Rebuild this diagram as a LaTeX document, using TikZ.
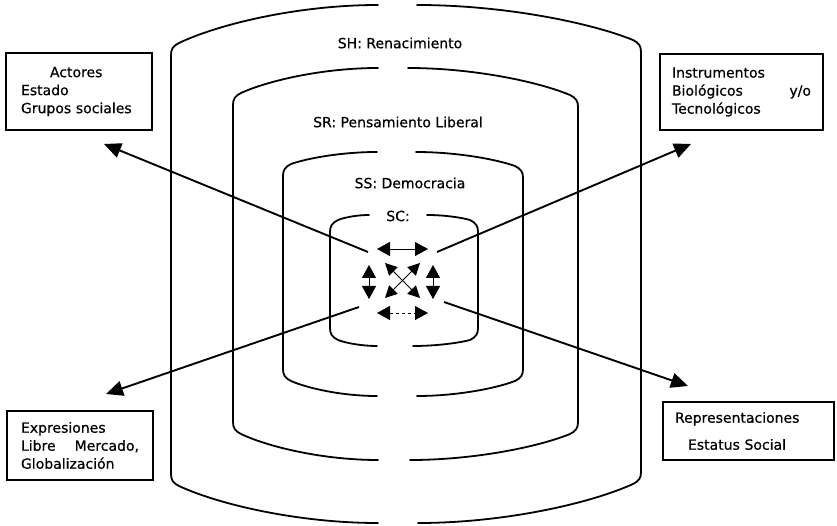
\documentclass[tikz,border=0pt]{standalone}
\usepackage{fontspec}
\setmainfont[FakeBold=0.6]{DejaVu Sans}
\usetikzlibrary{arrows.meta}

% left half of a nested level: xl, y top, y upper shoulder, y lower shoulder, y bottom, top gap x, bottom gap x
\newcommand\ringleft[7]{%
  \draw[ringline] (#6,#2)
    .. controls ({#6-0.4*(#6-#1-8)},#2) and ({#1+8+0.2*(#6-#1-8)},{#3-4-0.5*(#3-4-#2)}) .. ({#1+8},{#3-4})
    .. controls ({#1+2},{#3-1}) and (#1,{#3+2}) .. (#1,{#3+8})
    -- (#1,{#4-8})
    .. controls (#1,{#4-2}) and ({#1+2},{#4+1}) .. ({#1+8},{#4+4})
    .. controls ({#1+8+0.2*(#7-#1-8)},{#4+4+0.5*(#5-#4-4)}) and ({#7-0.4*(#7-#1-8)},#5) .. (#7,#5);}
% right half: xr, y top, y upper shoulder, y lower shoulder, y bottom, top gap x, bottom gap x
\newcommand\ringright[7]{%
  \draw[ringline] (#6,#2)
    .. controls ({#6+0.4*(#1-8-#6)},#2) and ({#1-8-0.2*(#1-8-#6)},{#3-4-0.5*(#3-4-#2)}) .. ({#1-8},{#3-4})
    .. controls ({#1-2},{#3-1}) and (#1,{#3+2}) .. (#1,{#3+8})
    -- (#1,{#4-8})
    .. controls (#1,{#4-2}) and ({#1-2},{#4+1}) .. ({#1-8},{#4+4})
    .. controls ({#1-8-0.2*(#1-8-#7)},{#4+4+0.5*(#5-#4-4)}) and ({#7+0.4*(#1-8-#7)},#5) .. (#7,#5);}

\begin{document}
\begin{tikzpicture}[x=1pt,y=-1pt,
  ringline/.style={line width=1.8pt, line cap=round},
  txt/.style={font=\fontsize{14}{18}\selectfont},
  box/.style={txt, draw, line width=1.3pt, inner ysep=0pt, align=left},
  levellabel/.style={txt, inner sep=1pt},
  longarrow/.style={line width=1.9pt, -{Triangle[length=17pt,width=15pt]}},
  twoway/.style={line width=0.9pt, {Triangle[length=13pt,width=14pt]}-{Triangle[length=13pt,width=14pt]}},
  twowaydiag/.style={line width=0.9pt, {Triangle[length=12pt,width=12pt]}-{Triangle[length=12pt,width=12pt]}},
]
\useasboundingbox (0,0) rectangle (837,526);

% nested levels
\ringleft{171}{5}{47}{482}{523}{378}{378}
\ringright{641}{5}{44}{480}{523}{417}{418}
\ringleft{233}{68}{97}{430}{460}{378}{378}
\ringright{578}{68}{99}{430}{460}{408}{410}
\ringleft{283}{152}{168}{377}{396}{377}{377}
\ringright{523}{152}{170}{377}{396}{416}{417}
\ringleft{330}{215}{224}{336}{346}{369}{377}
\ringright{478}{215}{224}{336}{346}{427}{413}

\node[levellabel] (sh) at (400,43) {SH: Renacimiento};
\node[levellabel] (sr) at (398,122) {SR: Pensamiento Liberal};
\node[levellabel] (ss) at (410,183) {SS: Democracia};
\node[levellabel] (sc) at (398,216) {SC:};

% corner boxes
\node[box, inner xsep=15pt, text width=116pt, minimum height=77pt] (actores) at (79,91.5)
  {\hspace*{29pt}Actores\\Estado\\Grupos sociales};
\node[box, inner xsep=12pt, text width=139pt, minimum height=76pt] (instrumentos) at (741.5,92)
  {Instrumentos\\Biológicos\hfill y/o\\Tecnológicos};
\node[box, inner xsep=14pt, text width=118pt, minimum height=69pt] (expresiones) at (80,445.5)
  {Expresiones\\Libre\hfill Mercado,\\Globalización};
\node[box, inner xsep=12pt, text width=147pt, minimum height=58pt] (representaciones) at (748.5,431)
  {Representaciones\\[9pt]\hspace*{13pt}Estatus Social};

% long connectors
\coordinate (ul0) at (368,252); \coordinate (ul1) at (104,144);
\coordinate (ur0) at (437,252); \coordinate (ur1) at (691,144);
\coordinate (ll0) at (359,307); \coordinate (ll1) at (106,394);
\coordinate (lr0) at (444,302); \coordinate (lr1) at (688,386);
\draw[longarrow] (ul0) -- (ul1);
\draw[longarrow] (ur0) -- (ur1);
\draw[longarrow] (ll0) -- (ll1);
\draw[longarrow] (lr0) -- (lr1);

% interaction arrows in the core
\coordinate (t0) at (377,249); \coordinate (t1) at (428,249);
\coordinate (b0) at (377,313); \coordinate (b1) at (428,313);
\coordinate (l0) at (369,265); \coordinate (l1) at (369,299);
\coordinate (r0) at (433,265); \coordinate (r1) at (433,299);
\coordinate (x0) at (385,263); \coordinate (x1) at (420,298);
\coordinate (x2) at (420,263); \coordinate (x3) at (385,298);
\draw[twoway] (t0) -- (t1);
\draw[twoway, dashed] (b0) -- (b1);
\draw[twoway] (l0) -- (l1);
\draw[twoway] (r0) -- (r1);
\draw[twowaydiag] (x0) -- (x1);
\draw[twowaydiag] (x2) -- (x3);
\end{tikzpicture}
\end{document}
